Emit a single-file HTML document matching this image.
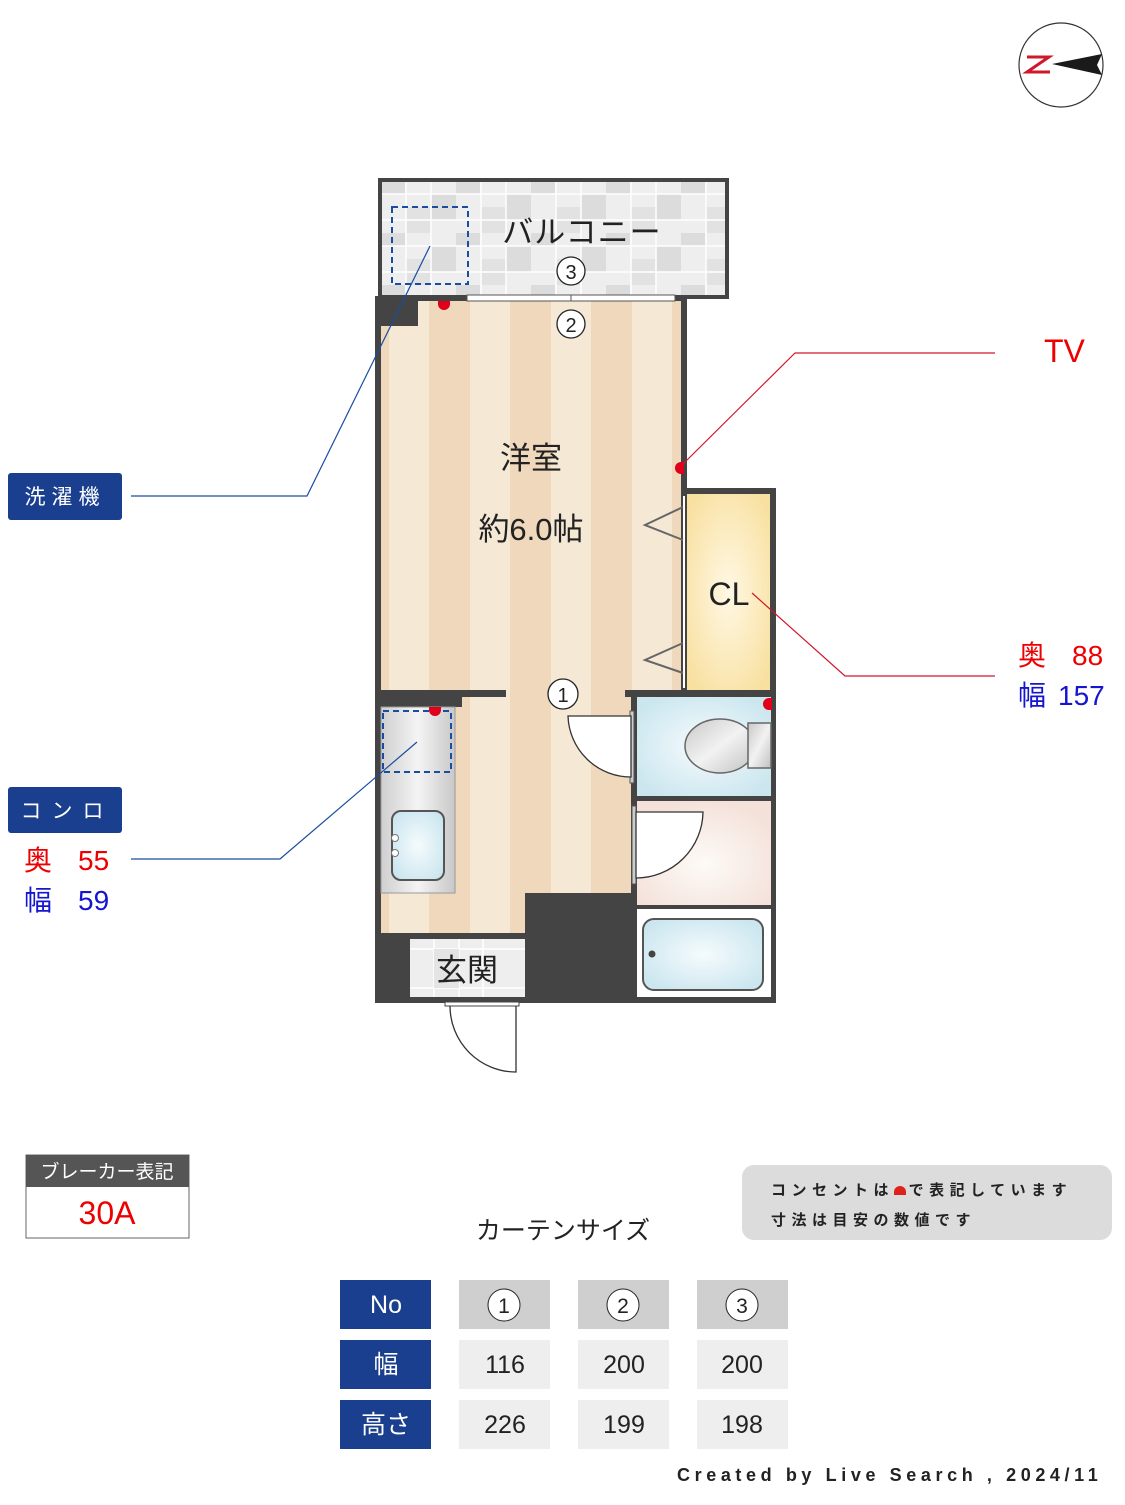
<!DOCTYPE html>
<html><head><meta charset="utf-8"><style>
body{margin:0;background:#fff;}
svg text{font-family:"Liberation Sans","Noto Sans CJK JP",sans-serif;}
</style></head><body>
<svg width="1125" height="1500" viewBox="0 0 1125 1500" xmlns="http://www.w3.org/2000/svg">
<defs>
<pattern id="tile" x="381" y="181" width="75" height="52" patternUnits="userSpaceOnUse">
<rect width="75" height="52" fill="#eeeeef"/>
<rect x="0" y="0" width="24" height="13" fill="#dcdcdc"/>
<rect x="50" y="13" width="25" height="26" fill="#dcdcdc"/>
<rect x="25" y="26" width="25" height="26" fill="#e2e2e2"/>
<path d="M0 13H75M0 39H75M25 0V52M50 0V52" stroke="#fff" stroke-width="1.5"/>
</pattern>
<radialGradient id="cl" cx="0.5" cy="0.5" r="0.6"><stop offset="0" stop-color="#fff8e4"/><stop offset="1" stop-color="#f8e0a0"/></radialGradient>
<radialGradient id="blue" cx="0.5" cy="0.5" r="0.6"><stop offset="0" stop-color="#f5fbfd"/><stop offset="1" stop-color="#cbe6ef"/></radialGradient>
<radialGradient id="pink" cx="0.5" cy="0.6" r="0.6"><stop offset="0" stop-color="#fdfaf7"/><stop offset="1" stop-color="#f4e2da"/></radialGradient>
<linearGradient id="steel" x1="0" x2="1" y1="0" y2="0"><stop offset="0" stop-color="#cfcfcf"/><stop offset="0.5" stop-color="#f4f4f4"/><stop offset="1" stop-color="#c8c8c8"/></linearGradient>
<linearGradient id="ts" x1="0" x2="1" y1="0" y2="1"><stop offset="0" stop-color="#c8c8c8"/><stop offset="0.5" stop-color="#f2f2f2"/><stop offset="1" stop-color="#c0c0c0"/></linearGradient>
</defs>

<circle cx="1061" cy="65" r="42" fill="#fff" stroke="#333" stroke-width="1.2"/>
<path d="M1027 57H1049L1027 72H1050" fill="none" stroke="#d0182a" stroke-width="3"/>
<path d="M1052 64L1102 54L1097 65L1102 75Z" fill="#1a1a1a"/>

<rect x="380" y="180" width="347" height="117" fill="url(#tile)" stroke="#444" stroke-width="4"/>
<rect x="392" y="207" width="76" height="77" fill="none" stroke="#1a4da0" stroke-width="2" stroke-dasharray="6,4"/>
<text x="582" y="243" font-size="31" text-anchor="middle" fill="#222" letter-spacing="1">バルコニー</text>

<rect x="380" y="299" width="302" height="640" fill="#efd8bc"/>
<g fill="#f5e9d5">
<rect x="389" y="299" width="40" height="640"/><rect x="470" y="299" width="40" height="640"/>
<rect x="551" y="299" width="40" height="640"/><rect x="632" y="299" width="40" height="640"/>
</g>
<rect x="375" y="296" width="6" height="707" fill="#444"/>
<rect x="375" y="296" width="310" height="5" fill="#444"/>
<rect x="681" y="296" width="6" height="200" fill="#444"/>
<rect x="375" y="296" width="43" height="30" fill="#444"/>
<rect x="467" y="295" width="208" height="6" fill="#fff" stroke="#555" stroke-width="1"/>
<line x1="571" y1="295" x2="571" y2="301" stroke="#555"/>

<rect x="684" y="491" width="89" height="202" fill="url(#cl)" stroke="#444" stroke-width="6"/>
<line x1="684" y1="496" x2="684" y2="688" stroke="#fff" stroke-width="2"/>
<path d="M683 507L645 525L683 540" fill="none" stroke="#666" stroke-width="2"/>
<path d="M683 643L645 660L683 673" fill="none" stroke="#666" stroke-width="2"/>
<text x="729" y="605" font-size="32" text-anchor="middle" fill="#222">CL</text>

<rect x="375" y="690" width="131" height="7" fill="#444"/>
<rect x="375" y="690" width="87" height="17" fill="#444"/>
<rect x="625" y="690" width="151" height="7" fill="#444"/>

<rect x="381" y="707" width="74" height="186" fill="url(#steel)" stroke="#999" stroke-width="1"/>
<rect x="392" y="811" width="52" height="69" rx="9" fill="url(#blue)" stroke="#555" stroke-width="2"/>
<circle cx="395" cy="838" r="3.5" fill="#fff" stroke="#777"/><circle cx="395" cy="853" r="3.5" fill="#fff" stroke="#777"/>
<rect x="383" y="711" width="68" height="61" fill="none" stroke="#1a4da0" stroke-width="2" stroke-dasharray="6,4"/>

<rect x="631" y="690" width="6" height="313" fill="#444"/>
<rect x="771" y="690" width="5" height="313" fill="#444"/>
<rect x="637" y="697" width="134" height="99" fill="url(#blue)"/>
<rect x="637" y="796" width="134" height="5" fill="#444"/>
<rect x="637" y="801" width="134" height="104" fill="url(#pink)"/>
<rect x="637" y="905" width="134" height="4" fill="#444"/>
<rect x="637" y="909" width="134" height="90" fill="#fff"/>
<rect x="643" y="919" width="120" height="71" rx="11" fill="url(#blue)" stroke="#555" stroke-width="2"/>
<circle cx="652" cy="954" r="3.5" fill="#444"/>
<ellipse cx="720" cy="746" rx="35" ry="27" fill="url(#ts)" stroke="#666" stroke-width="1.5"/>
<rect x="748" y="723" width="23" height="45" fill="url(#ts)" stroke="#666" stroke-width="1.5"/>

<rect x="630" y="711" width="4" height="72" fill="#ccc" stroke="#555" stroke-width="1"/>
<path d="M631 716H568A63 63 0 0 0 631 777Z" fill="#fff" stroke="#333" stroke-width="1.3"/>
<rect x="632" y="806" width="4" height="78" fill="#ccc" stroke="#555" stroke-width="1"/>
<path d="M636 812H703A67 67 0 0 1 636 878Z" fill="#fff" stroke="#333" stroke-width="1.3"/>

<rect x="525" y="893" width="106" height="110" fill="#444"/>
<rect x="375" y="933" width="35" height="70" fill="#444"/>
<rect x="375" y="997" width="401" height="6" fill="#444"/>
<rect x="410" y="933" width="115" height="6" fill="#444"/>
<rect x="410" y="939" width="115" height="58" fill="#eeeeef"/>
<path d="M410 949H525M410 988H525M434 939V997M459 939V997M483 939V997" stroke="#fff" stroke-width="1.5"/>
<rect x="434" y="949" width="25" height="39" fill="#e4e4e4"/>
<text x="467" y="981" font-size="31" text-anchor="middle" fill="#222">玄関</text>
<rect x="445" y="1002" width="74" height="4" fill="#fff" stroke="#444" stroke-width="1"/>
<path d="M516 1006V1072A66 66 0 0 1 450 1006" fill="none" stroke="#333" stroke-width="1.3"/>

<g fill="#e0001a">
<path d="M438 301h12v3a6 6 0 0 1-12 0z"/>
<path d="M684 462v12h-3a6 6 0 0 1 0-12z"/>
<path d="M429 707h12v3a6 6 0 0 1-12 0z"/>
<path d="M772 698v12h-3a6 6 0 0 1 0-12z"/>
</g>

<text x="531" y="469" font-size="31" text-anchor="middle" fill="#222">洋室</text>
<text x="531" y="540" font-size="31" text-anchor="middle" fill="#222">約6.0帖</text>

<g font-size="20" text-anchor="middle" fill="#222">
<circle cx="571" cy="271" r="14" fill="#fff" stroke="#222" stroke-width="1.3"/><text x="571" y="279">3</text>
<circle cx="571" cy="324" r="14" fill="#fff" stroke="#222" stroke-width="1.3"/><text x="571" y="332">2</text>
<circle cx="563" cy="694" r="15" fill="#fff" stroke="#222" stroke-width="1.3"/><text x="563" y="702">1</text>
</g>

<polyline points="131,496 307,496 430,246" fill="none" stroke="#1a4da0" stroke-width="1.2"/>
<polyline points="131,859 280,859 417,742" fill="none" stroke="#1a4da0" stroke-width="1.2"/>
<polyline points="995,353 795,353 682,465" fill="none" stroke="#d0182a" stroke-width="1.2"/>
<polyline points="752,593 845,676 995,676" fill="none" stroke="#d0182a" stroke-width="1.2"/>

<rect x="8" y="473" width="114" height="47" rx="3" fill="#1a3f8f"/>
<text x="65" y="504" font-size="21" text-anchor="middle" fill="#fff" letter-spacing="6">洗濯機</text>
<rect x="8" y="787" width="114" height="46" rx="3" fill="#1a3f8f"/>
<text x="67" y="818" font-size="21" text-anchor="middle" fill="#fff" letter-spacing="10">コンロ</text>
<text x="24" y="870" font-size="28" fill="#e00">奥</text><text x="78" y="870" font-size="28" fill="#e00">55</text>
<text x="24" y="910" font-size="28" fill="#1515d0">幅</text><text x="78" y="910" font-size="28" fill="#1515d0">59</text>

<text x="1044" y="362" font-size="32" fill="#e00">TV</text>
<text x="1018" y="665" font-size="28" fill="#e00">奥</text><text x="1072" y="665" font-size="28" fill="#e00">88</text>
<text x="1018" y="705" font-size="28" fill="#1515d0">幅</text><text x="1058" y="705" font-size="28" fill="#1515d0">157</text>

<rect x="26" y="1155" width="163" height="83" fill="#fff" stroke="#666" stroke-width="1"/>
<rect x="26" y="1155" width="163" height="32" fill="#555"/>
<text x="107" y="1178" font-size="19" text-anchor="middle" fill="#fff">ブレーカー表記</text>
<text x="107" y="1224" font-size="32" text-anchor="middle" fill="#e00">30A</text>

<rect x="742" y="1165" width="370" height="75" rx="12" fill="#dcdcdc"/>
<text x="771" y="1195" font-size="15" font-weight="bold" fill="#222" letter-spacing="5.5">コンセントは<tspan fill="#dcdcdc">■</tspan>で表記しています</text>
<path d="M894 1195v-3a6 6 0 0 1 12 0v3z" fill="#e0201a"/>
<text x="771" y="1225" font-size="15" font-weight="bold" fill="#222" letter-spacing="5.5">寸法は目安の数値です</text>

<text x="563" y="1239" font-size="25" text-anchor="middle" fill="#222">カーテンサイズ</text>
<g font-size="25" text-anchor="middle">
<rect x="340" y="1280" width="91" height="49" fill="#1a3f8f"/><text x="386" y="1313" fill="#fff">No</text>
<rect x="340" y="1340" width="91" height="49" fill="#1a3f8f"/><text x="386" y="1373" fill="#fff">幅</text>
<rect x="340" y="1400" width="91" height="49" fill="#1a3f8f"/><text x="386" y="1433" fill="#fff">高さ</text>
<rect x="459" y="1280" width="91" height="49" fill="#cfcfcf"/>
<rect x="578" y="1280" width="91" height="49" fill="#cfcfcf"/>
<rect x="697" y="1280" width="91" height="49" fill="#cfcfcf"/>
<g font-size="21" fill="#222">
<circle cx="504" cy="1305" r="16" fill="#fff" stroke="#222"/><text x="504" y="1313">1</text>
<circle cx="623" cy="1305" r="16" fill="#fff" stroke="#222"/><text x="623" y="1313">2</text>
<circle cx="742" cy="1305" r="16" fill="#fff" stroke="#222"/><text x="742" y="1313">3</text>
</g>
<g fill="#eeeeee">
<rect x="459" y="1340" width="91" height="49"/><rect x="578" y="1340" width="91" height="49"/><rect x="697" y="1340" width="91" height="49"/>
<rect x="459" y="1400" width="91" height="49"/><rect x="578" y="1400" width="91" height="49"/><rect x="697" y="1400" width="91" height="49"/>
</g>
<g fill="#222">
<text x="505" y="1373">116</text><text x="624" y="1373">200</text><text x="742" y="1373">200</text>
<text x="505" y="1433">226</text><text x="624" y="1433">199</text><text x="742" y="1433">198</text>
</g>
</g>
<text x="677" y="1481" font-size="18" font-weight="bold" fill="#222" letter-spacing="4.6">Created by Live Search , 2024/11</text>
</svg>
</body></html>
